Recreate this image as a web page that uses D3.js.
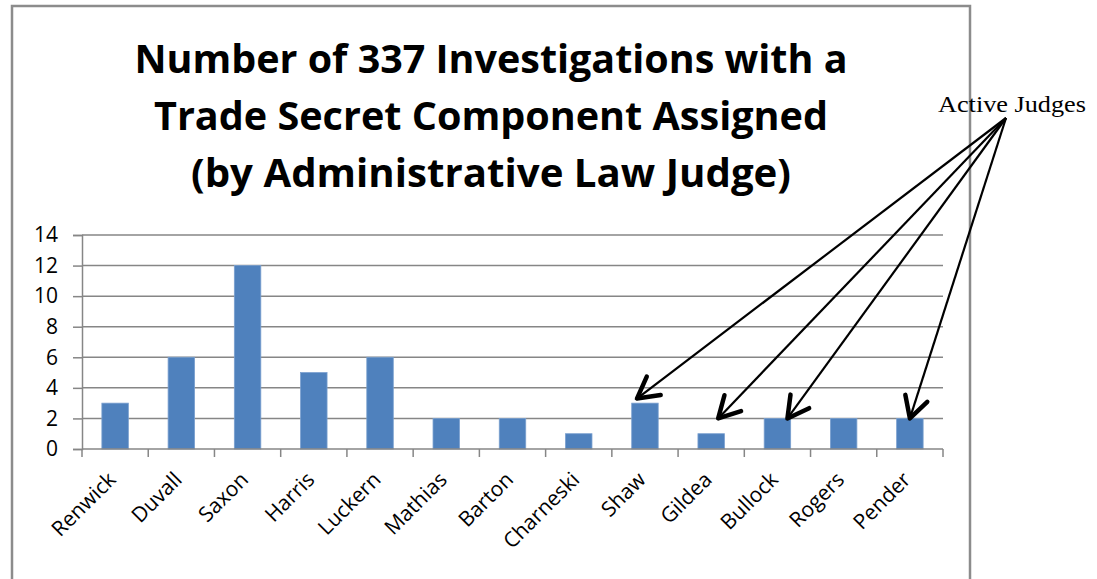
<!DOCTYPE html>
<html>
<head>
<meta charset="utf-8">
<script src="https://cdn.jsdelivr.net/npm/d3@7"></script>
<style>
  body { margin: 0; background: #fff; }
  svg { display: block; }
</style>
</head>
<body>
<div id="chart"></div>
<script>
// data
var judges = ["Renwick", "Duvall", "Saxon", "Harris", "Luckern", "Mathias", "Barton",
              "Charneski", "Shaw", "Gildea", "Bullock", "Rogers", "Pender"];
var counts = [3, 6, 12, 5, 6, 2, 2, 1, 3, 1, 2, 2, 2];
var yTicks = [0, 2, 4, 6, 8, 10, 12, 14];
var titleLines = ["Number of 337 Investigations with a",
                  "Trade Secret Component Assigned",
                  "(by Administrative Law Judge)"];
var activeJudges = ["Shaw", "Gildea", "Bullock", "Pender"];
var arrowTipValues = [3.3, 2, 2, 2];   // where the heads end, in chart units
var noteText = "Active Judges";

var W = 1097, H = 579;
var svg = d3.select("#chart").append("svg")
    .attr("width", W)
    .attr("height", H);

// outer frame of the chart object
svg.append("rect")
    .attr("x", 12).attr("y", 6)
    .attr("width", 958).attr("height", 620)
    .attr("fill", "none")
    .attr("stroke", "#8c8c8c")
    .attr("stroke-width", 2.5);

var pLeft = 82, pRight = 943, pTop = 235, pBottom = 449;

var x = d3.scaleBand().domain(judges).range([pLeft, pRight]).paddingInner(0.6).paddingOuter(0.3);
var xb = d3.scaleBand().domain(judges).range([pLeft, pRight]);
var y = d3.scaleLinear().domain([0, 14]).range([pBottom, pTop]);

var grey = "#868686";

// title
var titleWidths = [713, 674, 600];
svg.selectAll(".title")
    .data(titleLines)
    .enter().append("text")
    .attr("class", "title")
    .attr("x", 491)
    .attr("y", function(d, i) { return 73 + i * 57; })
    .attr("text-anchor", "middle")
    .attr("font-family", "'Open Sans', sans-serif")
    .attr("font-weight", "bold")
    .attr("font-size", "40px")
    .attr("textLength", function(d, i) { return titleWidths[i]; })
    .attr("lengthAdjust", "spacingAndGlyphs")
    .text(function(d) { return d; });

// gridlines
svg.append("g")
    .selectAll("line")
    .data(yTicks.slice(1))
    .enter().append("line")
    .attr("x1", pLeft).attr("x2", pRight)
    .attr("y1", function(d) { return y(d); })
    .attr("y2", function(d) { return y(d); })
    .attr("stroke", grey)
    .attr("stroke-width", 1.5);

// y axis
var yAxis = svg.append("g")
    .attr("transform", "translate(" + pLeft + ",0)")
    .call(d3.axisLeft(y).tickValues(yTicks).tickSize(9).tickPadding(15));
yAxis.select(".domain").attr("stroke", grey).attr("stroke-width", 1.5);
yAxis.selectAll(".tick line").attr("stroke", grey).attr("stroke-width", 1.5);
yAxis.selectAll(".tick text")
    .attr("font-family", "'Open Sans', sans-serif")
    .attr("font-size", "21px")
    .attr("fill", "#000");

// bars
svg.selectAll(".bar")
    .data(counts)
    .enter().append("rect")
    .attr("class", "bar")
    .attr("x", function(d, i) { return x(judges[i]); })
    .attr("width", x.bandwidth())
    .attr("y", function(d) { return y(d); })
    .attr("height", function(d) { return y(0) - y(d); })
    .attr("fill", "#4f81bd")
    .attr("stroke", "#7aa0cf")
    .attr("stroke-width", 0.8);

// x axis
svg.append("line")
    .attr("x1", pLeft).attr("x2", pRight)
    .attr("y1", pBottom).attr("y2", pBottom)
    .attr("stroke", grey).attr("stroke-width", 1.5);

var bounds = judges.map(function(d) { return xb(d); }).concat([pRight]);
svg.append("g")
    .selectAll("line")
    .data(bounds)
    .enter().append("line")
    .attr("x1", function(d) { return d; })
    .attr("x2", function(d) { return d; })
    .attr("y1", pBottom).attr("y2", pBottom + 8)
    .attr("stroke", grey).attr("stroke-width", 1.5);

svg.append("g")
    .selectAll("text")
    .data(judges)
    .enter().append("text")
    .attr("transform", function(d) {
        var cx = xb(d) + xb.bandwidth() / 2 + 2;
        return "translate(" + cx + "," + (pBottom + 32) + ") rotate(-45)";
    })
    .attr("text-anchor", "end")
    .attr("font-family", "'Open Sans', sans-serif")
    .attr("font-size", "21px")
    .attr("fill", "#000")
    .text(function(d) { return d; });

// annotation
svg.append("text")
    .attr("x", 938)
    .attr("y", 112)
    .attr("font-family", "'Liberation Serif', 'Times New Roman', serif")
    .attr("font-size", "24px")
    .attr("textLength", 148)
    .attr("lengthAdjust", "spacingAndGlyphs")
    .attr("fill", "#000")
    .text(noteText);

var ox = 1006, oy = 118;
var tipDx = [-8, 7, 10, 0];
var arrows = svg.append("g");
activeJudges.forEach(function(name, i) {
    var tx = xb(name) + xb.bandwidth() / 2 + tipDx[i];
    var ty = y(arrowTipValues[i]);
    var ang = Math.atan2(ty - oy, tx - ox);
    var len = 24, spread = 0.5;
    arrows.append("line")
        .attr("x1", ox).attr("y1", oy)
        .attr("x2", tx).attr("y2", ty)
        .attr("stroke", "#000").attr("stroke-width", 2.2);
    var p1 = [tx - len * Math.cos(ang - spread), ty - len * Math.sin(ang - spread)];
    var p2 = [tx - len * Math.cos(ang + spread), ty - len * Math.sin(ang + spread)];
    arrows.append("path")
        .attr("d", "M" + p1 + "L" + [tx, ty] + "L" + p2)
        .attr("fill", "none")
        .attr("stroke", "#000")
        .attr("stroke-width", 4.5)
        .attr("stroke-linecap", "round")
        .attr("stroke-linejoin", "round");
});
</script>
</body>
</html>
